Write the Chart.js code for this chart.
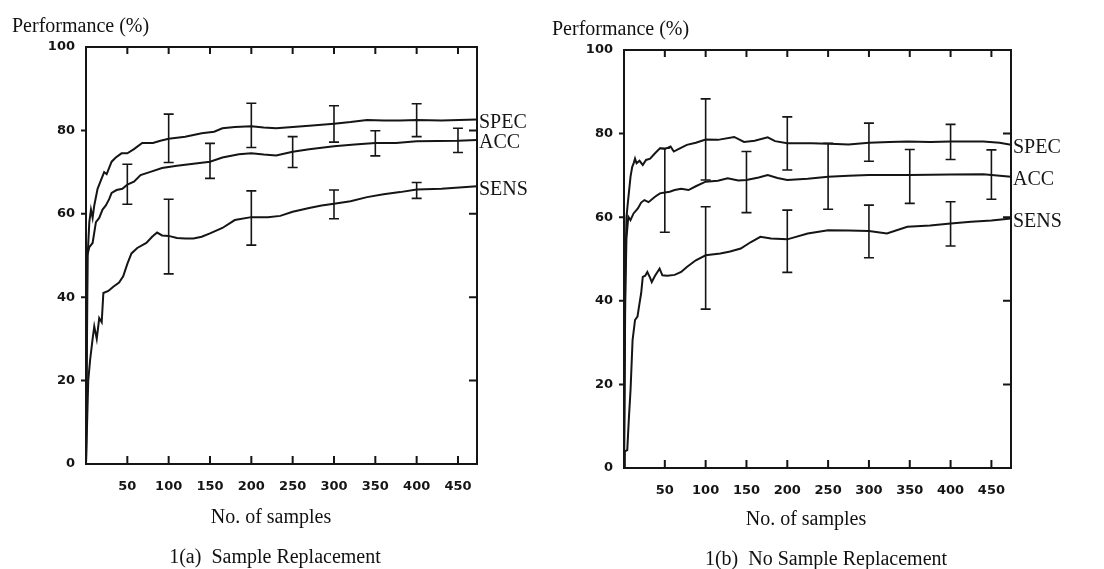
<!DOCTYPE html>
<html>
<head>
<title>Performance vs samples</title>
<script src="https://cdn.jsdelivr.net/npm/chart.js@4.4.0/dist/chart.umd.min.js"></script>
<style>
  body { margin: 0; background: #fff; }
  #wrap { position: relative; width: 1104px; height: 569px; overflow: hidden; }
  canvas { position: absolute; top: 0; }
  .t { position: absolute; font-family: "Liberation Serif", serif; font-size: 20px; line-height: 20px; color: #111; white-space: pre; }
  .c { text-align: center; width: 300px; }
</style>
</head>
<body>
<div id="wrap">
  <canvas id="chartA" width="552" height="569" style="left:0"></canvas>
  <canvas id="chartB" width="552" height="569" style="left:552px"></canvas>
  <div class="t" style="left:12px;top:15px">Performance (%)</div>
  <div class="t" style="left:552px;top:18px">Performance (%)</div>
  <div class="t c" style="left:121px;top:506px">No. of samples</div>
  <div class="t c" style="left:656px;top:508px">No. of samples</div>
  <div class="t c" style="left:125px;top:546px">1(a)  Sample Replacement</div>
  <div class="t c" style="left:676px;top:548px">1(b)  No Sample Replacement</div>
</div>
<script>
// tick values
var xTicks = [50, 100, 150, 200, 250, 300, 350, 400, 450];
var yTicks = [0, 20, 40, 60, 80, 100];

// 1(a) sample replacement
var aSpecX = [0,2,4,6,8,10,14,18,22,25,28,31,36,43,50,58,68,81,90,100,120,140,155,165,180,200,215,230,250,270,300,320,340,360,380,400,430,473];
var aSpecY = [0,50,58,61,59,62,66,68,70,69.5,71,72.5,73.5,74.5,74.5,75.5,77,77,77.5,78,78.5,79.3,79.7,80.5,80.8,81,80.7,80.5,80.8,81.1,81.6,82,82.5,82.4,82.4,82.5,82.4,82.6];
var aAccX = [0,1.5,4,8,12,16,20,24,28,31,37,44,50,58,66,77,92,110,130,150,165,185,200,215,230,250,270,300,325,350,375,400,450,473];
var aAccY = [0,50,52,53,58,59,61,62,63.5,65,65.7,66,67,67.7,69.3,70,71,71.5,72,72.5,73.5,74.3,74.5,74.2,74,74.9,75.5,76.2,76.6,77,77,77.4,77.5,77.7];
var aSensX = [0,2.7,5,8,10,13,16,19,21,27,33,40,45,50,55,62,73,80,86,92,100,110,120,130,140,150,165,180,200,220,235,250,270,285,300,320,340,360,380,400,430,473];
var aSensY = [0,20,25,30,33,30,35,34,41,41.5,42.5,43.5,45,48,50.5,51.8,53,54.5,55.5,54.8,54.7,54.2,54.1,54.1,54.5,55.3,56.6,58.5,59.2,59.2,59.5,60.5,61.4,62,62.4,63,64,64.7,65.2,65.8,66,66.6];

// error bars 1(a)
var aSpecErrX = [100, 200, 300, 400];
var aSpecLo = [72.3, 75.9, 77.2, 78.5];
var aSpecHi = [83.9, 86.5, 85.9, 86.4];
var aAccErrX = [50, 150, 250, 350, 450];
var aAccLo = [62.3, 68.5, 71.1, 73.9, 74.7];
var aAccHi = [71.9, 76.9, 78.5, 79.9, 80.5];
var aSensErrX = [100, 200, 300, 400];
var aSensLo = [45.6, 52.5, 58.8, 63.7];
var aSensHi = [63.5, 65.5, 65.7, 67.5];

// 1(b) no sample replacement
var bSpecX = [0,1.5,3,5,8,10,12,13.5,15.4,19,23,27,32,38,44,50,57,61,66,77,88,100,115,135,147,160,176,185,200,230,260,275,300,325,347,375,400,440,460,474];
var bSpecY = [0,45,60,64,69.7,72,73,74,72.9,73.5,72.5,73.7,74,75.3,76.5,76.3,76.9,75.7,76.2,77.3,77.8,78.6,78.5,79.2,78,78.3,79.1,78.2,77.7,77.7,77.5,77.4,77.8,78,78.1,78,78.1,78.1,77.8,77.3];
var bAccX = [0,1.5,3,5.3,7.9,11.7,17,21,25,30,38,44,50,56,62,70,79,88,100,115,127,140,150,165,176,188,200,225,250,275,300,350,400,440,474];
var bAccY = [0,40,55,60.1,59.3,60.9,62.1,63.5,64.1,63.6,64.9,65.7,65.9,66.1,66.5,66.8,66.5,67.4,68.5,68.7,69.3,68.8,68.9,69.5,70.1,69.4,68.9,69.2,69.7,69.9,70.1,70.1,70.2,70.3,69.7];
var bSensX = [0,1,4,6,8,10.5,13.5,16.5,19,21,23,26,28.6,32,34,38,43.6,47,53,62,70,77,88,100,118,130,143,155,167,180,200,225,250,275,300,322,347,375,400,425,450,474];
var bSensY = [0,4,4.3,12,18.6,30.6,35.4,36.2,39.4,41.8,45.7,46,46.9,45.5,44.5,46,47.7,46.1,46,46.2,46.9,48.1,49.7,50.9,51.3,51.8,52.5,54,55.3,54.9,54.7,56.1,56.9,56.8,56.7,56.1,57.7,58,58.5,58.9,59.2,59.7];

// error bars 1(b)
var bSpecErrX = [100, 200, 300, 400];
var bSpecLo = [68.9, 71.3, 73.4, 73.8];
var bSpecHi = [88.3, 84, 82.5, 82.2];
var bAccErrX = [50, 150, 250, 350, 450];
var bAccLo = [56.4, 61.1, 61.9, 63.3, 64.3];
var bAccHi = [76.5, 75.7, 77.7, 76.2, 76.1];
var bSensErrX = [100, 200, 300, 400];
var bSensLo = [38, 46.8, 50.3, 53.1];
var bSensHi = [62.5, 61.7, 62.9, 63.7];

function pts(xs, ys) {
    return xs.map(function (v, i) { return {x: v, y: ys[i]}; });
}

var errBars = {
    chartA: [[aSpecErrX, aSpecLo, aSpecHi], [aAccErrX, aAccLo, aAccHi], [aSensErrX, aSensLo, aSensHi]],
    chartB: [[bSpecErrX, bSpecLo, bSpecHi], [bAccErrX, bAccLo, bAccHi], [bSensErrX, bSensLo, bSensHi]]
};

var ink = '#151515';

// box, inward ticks, error bars and end labels
var framePlugin = {
    id: 'frame',
    afterDatasetsDraw: function (chart) {
        var ctx = chart.ctx, a = chart.chartArea, x = chart.scales.x, y = chart.scales.y;
        ctx.save();
        ctx.strokeStyle = ink;
        ctx.lineWidth = 2;
        ctx.strokeRect(a.left, a.top, a.right - a.left, a.bottom - a.top);
        ctx.beginPath();
        xTicks.forEach(function (v) {
            var px = x.getPixelForValue(v);
            ctx.moveTo(px, a.top); ctx.lineTo(px, a.top + 7);
            ctx.moveTo(px, a.bottom); ctx.lineTo(px, a.bottom - 8);
        });
        yTicks.slice(1, -1).forEach(function (v) {
            var py = y.getPixelForValue(v);
            ctx.moveTo(a.left - 5, py); ctx.lineTo(a.left, py);
            ctx.moveTo(a.right, py); ctx.lineTo(a.right - 8, py);
        });
        ctx.stroke();

        ctx.lineWidth = 1.6;
        errBars[chart.canvas.id].forEach(function (b) {
            b[0].forEach(function (v, i) {
                var px = x.getPixelForValue(v);
                var p1 = y.getPixelForValue(b[1][i]);
                var p2 = y.getPixelForValue(b[2][i]);
                ctx.beginPath();
                ctx.moveTo(px, p1); ctx.lineTo(px, p2);
                ctx.moveTo(px - 5, p1); ctx.lineTo(px + 5, p1);
                ctx.moveTo(px - 5, p2); ctx.lineTo(px + 5, p2);
                ctx.stroke();
            });
        });

        ctx.font = '20px "Liberation Serif"';
        ctx.fillStyle = ink;
        ctx.textBaseline = 'middle';
        chart.data.datasets.forEach(function (ds) {
            var last = ds.data[ds.data.length - 1];
            ctx.fillText(ds.label, a.right + 2, y.getPixelForValue(last.y) + 3);
        });
        ctx.restore();
    }
};

function graficar(id, series, xMax, yW, xH, pad) {
    var tickFont = {family: 'DejaVu Sans', size: 13, weight: 'bold'};
    return new Chart(document.getElementById(id), {
        type: 'line',
        data: {
            datasets: series.map(function (s) {
                return {label: s[0], data: pts(s[1], s[2]), borderColor: ink, borderWidth: 2,
                        pointRadius: 0, tension: 0, fill: false};
            })
        },
        options: {
            responsive: false,
            animation: false,
            layout: {padding: pad},
            plugins: {legend: {display: false}, tooltip: {enabled: false}},
            scales: {
                x: {
                    type: 'linear', min: 0, max: xMax,
                    afterBuildTicks: function (s) { s.ticks = xTicks.map(function (v) { return {value: v}; }); },
                    afterFit: function (s) { s.height = xH; },
                    grid: {display: false, drawTicks: false},
                    border: {display: false},
                    ticks: {font: tickFont, color: ink, padding: 15, maxRotation: 0, autoSkip: false}
                },
                y: {
                    min: 0, max: 100,
                    afterBuildTicks: function (s) { s.ticks = yTicks.map(function (v) { return {value: v}; }); },
                    afterFit: function (s) { s.width = yW; },
                    grid: {display: false, drawTicks: false},
                    border: {display: false},
                    ticks: {font: tickFont, color: ink, padding: 11}
                }
            }
        },
        plugins: [framePlugin]
    });
}

graficar('chartA', [['SPEC', aSpecX, aSpecY], ['ACC', aAccX, aAccY], ['SENS', aSensX, aSensY]],
         473, 86, 105, {top: 47, right: 75, left: 0, bottom: 0});
graficar('chartB', [['SPEC', bSpecX, bSpecY], ['ACC', bAccX, bAccY], ['SENS', bSensX, bSensY]],
         474, 72, 101, {top: 50, right: 93, left: 0, bottom: 0});
</script>
</body>
</html>
